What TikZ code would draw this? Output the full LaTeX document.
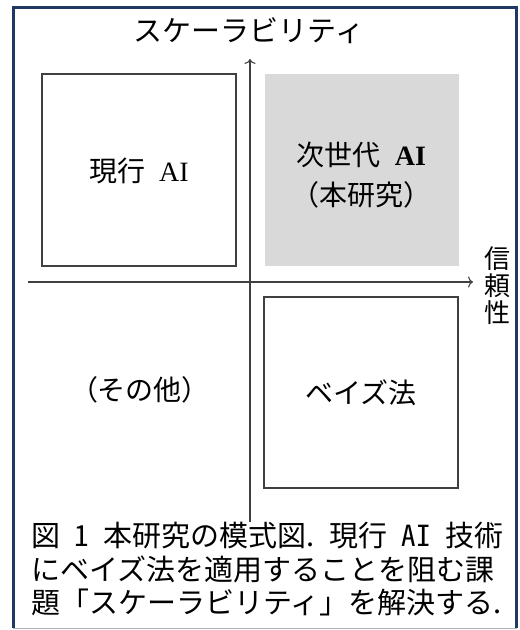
\documentclass[tikz,border=0pt]{standalone}
\usepackage{fontspec}
\setmainfont{Liberation Serif}
\newfontfamily\jp{Noto Sans CJK JP}
\newfontfamily\jph[RawFeature=+hwid]{Noto Sans CJK JP}
\usetikzlibrary{arrows.meta}
\definecolor{framecol}{HTML}{1F3864}
\definecolor{boxgray}{HTML}{D9D9D9}
\definecolor{linegray}{HTML}{404040}
\begin{document}
\begin{tikzpicture}[x=1pt,y=-1pt,
  qbox/.style={draw=linegray, line width=1.3pt, minimum width=194pt, minimum height=192pt, inner sep=0pt},
  lbl/.style={font=\jp\fontsize{28}{36}\selectfont, align=center, text=black},
  captxt/.style={font=\jp\fontsize{29}{33}\selectfont, anchor=west, inner sep=0pt, text=black},
  axis/.style={draw=linegray, line width=1.1pt, -{To[length=5pt,width=11pt]}}]
\useasboundingbox (0,0) rectangle (520,630);
\fill[white] (0,0) rectangle (520,630);
\draw[framecol, line width=2.6pt] (13.3,628) -- (13.3,7.3) -- (516.7,7.3) -- (516.7,628);
\draw[gray!60, line width=1pt] (13,628.5) -- (517,628.5);
% quadrant boxes
\node[qbox] (cur) at (139,170) {};
\node[qbox, fill=boxgray, draw=none] (next) at (361.5,170) {};
\node[qbox, minimum height=191pt] (bayes) at (361,392.5) {};
% axes
\coordinate (xs) at (28,282);
\coordinate (xe) at (473,282);
\coordinate (ys) at (250,522);
\coordinate (ye) at (250,59);
\draw[axis] (xs) -- (xe);
\draw[axis] (ys) -- (ye);
% labels
\node[font=\jp\fontsize{29}{33}\selectfont] (scal) at (249,31) {スケーラビリティ};
\node[font=\jp\fontsize{26}{27}\selectfont, align=center, inner sep=0pt] (rel) at (497,286) {信\\頼\\性};
\node[lbl] (curl) at ([yshift=-1pt]cur.center) {現行{\jph\ }{\rmfamily AI}};
\node[lbl, font=\jp\fontsize{28}{40}\selectfont] (nextl) at ([yshift=-5pt]next.center) {次世代{\jph\ }{\rmfamily\bfseries AI}\\（本研究）};
\node[lbl] (other) at (140,390) {（その他）};
\node[lbl] (bayesl) at (bayes.center) {ベイズ法};
% caption
\node[captxt] (c1) at (31,536) {図{\jph\ 1\ }本研究の模式図.{\jph\ }現行{\jph\ AI\ }技術};
\node[captxt] (c2) at (31,569) {にベイズ法を適用することを阻む課};
\node[captxt] (c3) at (31,602) {題「スケーラビリティ」を解決する.};
\end{tikzpicture}
\end{document}
